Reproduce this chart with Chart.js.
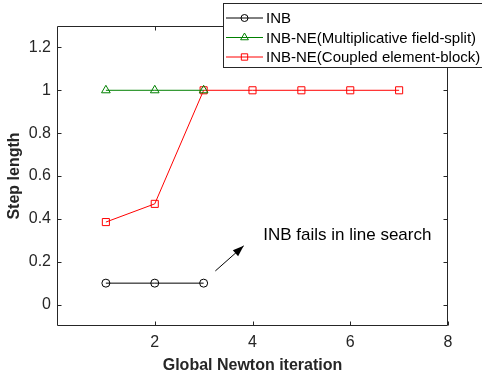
<!DOCTYPE html>
<html>
<head>
<meta charset="utf-8">
<script src="https://cdn.jsdelivr.net/npm/chart.js@4.4.1/dist/chart.umd.min.js"></script>
<style>
  html, body { margin: 0; padding: 0; background: #fff; }
  #wrap { width: 482px; height: 373px; }
</style>
</head>
<body>
<div id="wrap"><canvas id="stepChart" width="482" height="373"></canvas></div>
<script>
// data
const iterations = [1, 2, 3, 4, 5, 6, 7];
const inbStep = [0.1, 0.1, 0.1];
const multFieldSplitStep = [1, 1, 1];
const coupledBlockStep = [0.385, 0.47, 1, 1, 1, 1, 1];

const xTicks = [2, 4, 6, 8];
const yTicks = [0, 0.2, 0.4, 0.6, 0.8, 1, 1.2];

const seriesNames = ['INB', 'INB-NE(Multiplicative field-split)', 'INB-NE(Coupled element-block)'];
const noteText = 'INB fails in line search';

const FONT = '"Liberation Sans", Arial, Helvetica, sans-serif';
const AXIS_COLOR = '#262626';
const GREEN = '#008000';
const RED = '#ff0000';

function toPoints(ys) {
  return ys.map((y, i) => ({ x: iterations[i], y: y }));
}

// box, inward ticks, axis titles, annotation and legend (matlab look)
const matlabLook = {
  id: 'matlabLook',
  afterDraw(chart) {
    const ctx = chart.ctx;
    const a = chart.chartArea;
    const xs = chart.scales.x, ys = chart.scales.y;
    const L = Math.round(a.left) + 0.5, R = Math.round(a.right) - 0.5;
    const T = Math.round(a.top) + 0.5, B = Math.round(a.bottom) - 0.5;
    ctx.save();
    ctx.strokeStyle = AXIS_COLOR;
    ctx.lineWidth = 1;
    ctx.beginPath();
    ctx.rect(L, T, R - L, B - T);
    const tl = 4;
    xTicks.forEach(v => {
      const px = Math.round(xs.getPixelForValue(v)) + 0.5;
      ctx.moveTo(px, B); ctx.lineTo(px, B - tl);
      ctx.moveTo(px, T); ctx.lineTo(px, T + tl);
    });
    yTicks.forEach(v => {
      const py = Math.round(ys.getPixelForValue(v)) + 0.5;
      ctx.moveTo(L, py); ctx.lineTo(L + tl, py);
      ctx.moveTo(R, py); ctx.lineTo(R - tl, py);
    });
    ctx.stroke();

    // axis titles
    ctx.fillStyle = AXIS_COLOR;
    ctx.font = 'bold 16px ' + FONT;
    ctx.textAlign = 'center';
    ctx.textBaseline = 'middle';
    ctx.fillText('Global Newton iteration', (a.left + a.right) / 2, 366);
    ctx.save();
    ctx.translate(15, 176);
    ctx.rotate(-Math.PI / 2);
    ctx.fillText('Step length', 0, 0);
    ctx.restore();

    // annotation arrow + text
    const x0 = xs.getPixelForValue(3.24), y0 = ys.getPixelForValue(0.157);
    const x1 = xs.getPixelForValue(3.82), y1 = ys.getPixelForValue(0.274);
    ctx.strokeStyle = '#000';
    ctx.fillStyle = '#000';
    ctx.beginPath();
    ctx.moveTo(x0, y0); ctx.lineTo(x1, y1);
    ctx.stroke();
    const ang = Math.atan2(y1 - y0, x1 - x0);
    const hl = 11, hw = 4;
    ctx.beginPath();
    ctx.moveTo(x1, y1);
    ctx.lineTo(x1 - hl * Math.cos(ang) + hw * Math.sin(ang), y1 - hl * Math.sin(ang) - hw * Math.cos(ang));
    ctx.lineTo(x1 - hl * Math.cos(ang) - hw * Math.sin(ang), y1 - hl * Math.sin(ang) + hw * Math.cos(ang));
    ctx.closePath();
    ctx.fill();
    ctx.font = '17px ' + FONT;
    ctx.textAlign = 'left';
    ctx.fillStyle = '#000';
    ctx.fillText(noteText, xs.getPixelForValue(4.22), ys.getPixelForValue(0.325));

    // legend
    const lx = 223.5, ly = 3.5, lw = 270, lh = 64;
    ctx.fillStyle = '#fff';
    ctx.fillRect(lx, ly, lw, lh);
    ctx.strokeStyle = AXIS_COLOR;
    ctx.strokeRect(lx, ly, lw, lh);
    const rows = [18, 37.5, 57];
    chart.data.datasets.forEach((ds, i) => {
      const yy = rows[i];
      ctx.strokeStyle = ds.borderColor;
      ctx.fillStyle = 'rgba(255,255,255,0)';
      ctx.lineWidth = 1;
      ctx.beginPath();
      ctx.moveTo(226, yy); ctx.lineTo(263, yy);
      ctx.stroke();
      Chart.helpers.drawPoint(ctx, {
        pointStyle: ds.pointStyle, rotation: 0, radius: ds.pointRadius - 0.5, borderWidth: 1
      }, 244.5, yy);
      ctx.fillStyle = '#000';
      ctx.font = '15px ' + FONT;
      ctx.textAlign = 'left';
      ctx.textBaseline = 'middle';
      ctx.fillText(ds.label, 266, yy + 1);
    });
    ctx.restore();
  }
};

const ctx = document.getElementById('stepChart').getContext('2d');
new Chart(ctx, {
  type: 'line',
  data: {
    datasets: [
      {
        label: seriesNames[0], data: toPoints(inbStep),
        borderColor: '#000', backgroundColor: 'rgba(255,255,255,0)',
        pointStyle: 'circle', pointRadius: 4, pointBorderWidth: 1
      },
      {
        label: seriesNames[1], data: toPoints(multFieldSplitStep),
        borderColor: GREEN, backgroundColor: 'rgba(255,255,255,0)',
        pointStyle: 'triangle', pointRadius: 5, pointBorderWidth: 1
      },
      {
        label: seriesNames[2], data: toPoints(coupledBlockStep),
        borderColor: RED, backgroundColor: 'rgba(255,255,255,0)',
        pointStyle: 'rect', pointRadius: 5, pointBorderWidth: 1
      }
    ]
  },
  options: {
    responsive: false,
    animation: false,
    devicePixelRatio: 1,
    layout: { padding: { top: 26, right: 34, left: 0, bottom: 0 } },
    elements: { line: { borderWidth: 1, tension: 0, fill: false } },
    plugins: { legend: { display: false }, tooltip: { enabled: false } },
    scales: {
      x: {
        type: 'linear', min: 0, max: 8,
        grid: { display: false, drawTicks: false },
        border: { display: false },
        afterBuildTicks: s => { s.ticks = xTicks.map(v => ({ value: v })); },
        afterFit: s => { s.height = 47; },
        ticks: { color: AXIS_COLOR, font: { family: FONT, size: 16 }, padding: 7, maxRotation: 0 }
      },
      y: {
        type: 'linear', min: -0.1, max: 1.3,
        grid: { display: false, drawTicks: false },
        border: { display: false },
        afterBuildTicks: s => { s.ticks = yTicks.map(v => ({ value: v })); },
        afterFit: s => { s.width = 57; },
        ticks: { color: AXIS_COLOR, font: { family: FONT, size: 16 }, padding: 6, callback: v => String(v) }
      }
    }
  },
  plugins: [matlabLook]
});
</script>
</body>
</html>
